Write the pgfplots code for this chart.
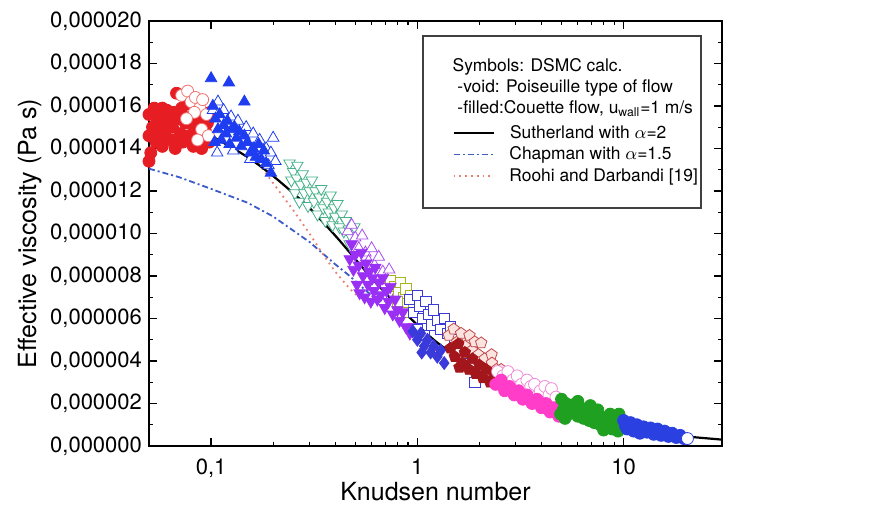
\documentclass[border=0pt]{standalone}
\usepackage{pgfplots}
\pgfplotsset{compat=1.18}
\usepackage{fontspec}
\setmainfont{TeX Gyre Heros}
\definecolor{redfill}{HTML}{E61E23}
\definecolor{redvoid}{HTML}{F07070}
\definecolor{bluefill}{HTML}{1E3CF0}
\definecolor{teal2}{HTML}{45B08A}
\definecolor{purp}{HTML}{9B30F5}
\definecolor{purpvoid}{HTML}{A84CF0}
\definecolor{olive2}{HTML}{A6B51E}
\definecolor{bluesq}{HTML}{3A3ADB}
\definecolor{brownfill}{HTML}{A3161B}
\definecolor{hexedge}{HTML}{C04848}
\definecolor{hexfill}{HTML}{FBE3E0}
\definecolor{pinkfill}{HTML}{FF3DC8}
\definecolor{pinkvoid}{HTML}{F08CD8}
\definecolor{green2}{HTML}{20A020}
\definecolor{blue2}{HTML}{2A40E0}
\definecolor{chap}{HTML}{3A5BC8}
\definecolor{roohi}{HTML}{E88070}
\begin{document}
\begin{tikzpicture}
\begin{axis}[
  scale only axis, width=286.5pt, height=212.5pt,
  at={(0,0)}, anchor=south west,
  xmode=log, xmin=0.05, xmax=30,
  ymin=0, ymax=20,
  axis line style={line width=0.8pt},
  every tick/.style={black, line width=0.6pt},
  major tick length=4pt, minor tick length=2.2pt,
  tick align=inside,
  xtick={0.1,1,10}, xticklabels={{0,1},{1},{10}},
  ytick={0,2,...,20}, minor ytick={1,3,...,19},
  yticklabels={{0,000000},{0,000002},{0,000004},{0,000006},{0,000008},{0,000010},{0,000012},{0,000014},{0,000016},{0,000018},{0,000020}},
  tick label style={font=\fontsize{11}{12}\selectfont},
  xticklabel style={yshift=-3pt},
  xlabel={Knudsen number}, ylabel={Effective viscosity (Pa s)},
  label style={font=\fontsize{12.5}{14}\selectfont},
  xlabel style={at={(axis description cs:0.5,-0.108)}, anchor=center},
  ylabel style={at={(axis description cs:-0.208,0.5)}, anchor=center},
  clip=true,
]
% red filled circles
\addplot[only marks, mark=*, mark size=3pt, color=redfill] coordinates {
(0.050,15.6)(0.050,14.6)(0.051,13.8)(0.050,13.4)(0.052,15.0)(0.053,15.9)(0.054,14.3)(0.055,15.3)
(0.056,14.8)(0.057,15.6)(0.058,14.1)(0.059,15.1)(0.060,14.6)(0.061,15.8)(0.062,15.3)(0.064,14.4)
(0.065,15.0)(0.066,15.7)(0.067,14.0)(0.068,16.6)(0.069,15.4)(0.071,14.7)(0.072,15.9)(0.073,14.3)
(0.075,15.2)(0.076,16.1)(0.078,14.6)(0.080,15.5)(0.082,14.1)(0.083,15.0)(0.085,15.8)(0.087,14.5)
(0.088,15.3)(0.090,14.0)(0.092,15.6)(0.094,14.8)(0.096,15.2)(0.098,14.3)(0.099,15.7)(0.058,15.9)};
% red void circles
\addplot[only marks, mark=*, mark size=3pt, mark options={draw=redvoid, fill=white}] coordinates {
(0.072,16.5)(0.077,16.7)(0.080,16.2)(0.084,16.4)(0.088,15.9)(0.091,16.3)(0.095,15.6)(0.083,15.7)
(0.076,15.4)(0.090,14.9)(0.097,14.6)(0.086,14.4)};
% blue void triangles
\addplot[only marks, mark=triangle*, mark size=3.3pt, mark options={draw=bluefill, fill=white}] coordinates {
(0.102,15.8)(0.108,16.2)(0.115,15.8)(0.125,15.5)(0.135,15.3)(0.148,15.0)(0.160,14.7)(0.172,14.4)
(0.185,14.0)(0.195,13.8)(0.205,13.4)(0.200,14.5)(0.190,13.2)(0.107,13.8)(0.128,13.9)(0.155,13.5)};
% blue filled triangles
\addplot[only marks, mark=triangle*, mark size=3.3pt, color=bluefill] coordinates {
(0.100,17.3)(0.122,17.1)(0.145,16.2)(0.102,16.0)(0.105,15.4)(0.108,14.9)(0.110,15.6)(0.112,14.4)
(0.115,15.1)(0.118,14.7)(0.120,15.3)(0.123,14.2)(0.126,14.9)(0.130,15.0)(0.133,14.5)(0.137,14.8)
(0.140,14.1)(0.145,14.6)(0.150,14.3)(0.155,13.8)(0.160,14.0)(0.165,13.6)(0.170,14.2)(0.175,13.5)
(0.180,13.9)(0.185,13.3)(0.195,12.85)(0.104,14.3)};
% teal void triangles (down)
\addplot[only marks, mark=triangle*, mark size=3.3pt, mark options={draw=teal2, fill=white, rotate=180}] coordinates {
(0.240,13.3)(0.245,12.5)(0.250,12.9)(0.255,11.9)(0.260,12.6)(0.262,13.2)(0.268,11.5)(0.272,12.3)
(0.278,12.8)(0.283,11.9)(0.290,12.4)(0.295,11.3)(0.300,12.0)(0.308,12.5)(0.315,11.5)(0.320,12.0)
(0.328,10.9)(0.335,11.7)(0.342,12.1)(0.350,11.2)(0.358,10.6)(0.365,11.5)(0.372,11.0)(0.380,11.8)
(0.388,10.4)(0.395,11.2)(0.400,10.8)(0.410,11.4)(0.420,10.3)(0.430,10.9)(0.440,10.1)(0.450,10.6)
(0.465,10.2)(0.480,9.8)(0.495,10.3)(0.470,9.5)};
% purple void triangles
\addplot[only marks, mark=triangle*, mark size=3.3pt, mark options={draw=purpvoid, fill=white}] coordinates {
(0.460,10.1)(0.480,10.4)(0.500,9.8)(0.520,9.3)(0.540,9.9)(0.560,9.1)(0.580,8.7)(0.600,9.3)
(0.620,8.5)(0.650,8.9)(0.680,8.2)(0.700,7.8)(0.730,8.3)(0.760,7.6)(0.800,7.2)(0.850,6.8)(0.900,6.6)};
% olive void squares
\addplot[only marks, mark=square*, mark size=2.6pt, mark options={draw=olive2, fill=white}] coordinates {
(0.740,7.8)(0.780,7.5)(0.810,7.2)(0.830,7.7)(0.860,7.0)(0.880,7.4)(0.900,6.7)(0.930,7.1)
(0.960,6.5)(0.990,6.9)(0.850,6.3)(0.800,6.8)};
% purple filled triangles (down)
\addplot[only marks, mark=triangle*, mark size=3.3pt, color=purp, mark options={rotate=180}] coordinates {
(0.470,8.8)(0.480,9.5)(0.490,8.3)(0.500,9.0)(0.510,7.6)(0.520,8.5)(0.525,7.2)(0.535,9.1)
(0.545,8.0)(0.555,7.0)(0.565,8.6)(0.575,7.6)(0.585,8.2)(0.595,6.8)(0.605,7.9)(0.615,7.3)
(0.625,8.4)(0.640,6.9)(0.650,7.7)(0.665,7.1)(0.680,7.9)(0.695,6.5)(0.710,7.3)(0.725,6.8)
(0.740,7.5)(0.760,6.2)(0.780,6.9)(0.800,6.4)(0.820,5.9)(0.850,6.3)(0.880,5.6)(0.920,5.3)
(0.960,5.6)(1.010,5.1)};
% blue void squares
\addplot[only marks, mark=square*, mark size=2.6pt, mark options={draw=bluesq, fill=white}] coordinates {
(0.920,6.9)(0.960,6.3)(1.000,7.1)(1.030,6.6)(1.060,6.0)(1.100,6.8)(1.130,6.2)(1.170,5.7)
(1.200,6.4)(1.250,5.9)(1.300,5.5)(1.350,6.0)(1.400,5.3)(1.450,5.6)(1.520,5.0)(1.000,5.5)
(1.080,5.2)(1.650,3.9)(1.900,3.0)};
% blue filled
\addplot[only marks, mark=diamond*, mark size=3.2pt, color=bluesq] coordinates {
(0.950,5.4)(1.000,5.0)(1.040,5.3)(1.080,4.7)(1.120,5.0)(1.160,4.4)(1.200,4.7)(1.250,4.2)
(1.300,4.5)(1.350,3.9)(1.050,4.4)};
% void pentagons
\addplot[only marks, mark=pentagon*, mark size=3pt, mark options={draw=hexedge, fill=hexfill}] coordinates {
(1.42,5.2)(1.50,5.5)(1.56,4.9)(1.63,5.3)(1.70,4.7)(1.79,5.2)(1.84,4.5)(1.90,4.9)
(1.98,4.3)(2.04,4.85)(2.12,4.1)(2.29,4.3)(2.30,3.9)(2.42,3.6)(2.55,3.6)};
% dark red filled
\addplot[only marks, mark=pentagon*, mark size=3pt, color=brownfill] coordinates {
(1.45,4.6)(1.52,4.2)(1.58,4.8)(1.65,3.9)(1.70,4.4)(1.78,3.6)(1.85,4.1)(1.92,3.4)
(2.00,3.8)(2.08,3.2)(2.15,3.6)(2.25,3.0)(2.35,3.4)(2.45,2.9)(1.60,3.7)};
% pink void circles
\addplot[only marks, mark=*, mark size=3pt, mark options={draw=pinkvoid, fill=white}] coordinates {
(2.45,3.5)(2.60,3.3)(2.75,3.5)(2.90,3.1)(3.05,3.3)(3.20,2.9)(3.40,3.1)(3.55,2.8)
(3.70,2.9)(3.95,2.6)(4.15,2.8)(4.35,2.4)(4.47,2.7)(4.70,2.3)};
% pink filled circles
\addplot[only marks, mark=*, mark size=3pt, color=pinkfill] coordinates {
(2.40,2.9)(2.55,3.1)(2.65,2.6)(2.80,2.8)(2.95,2.4)(3.10,2.6)(3.25,2.2)(3.40,2.4)
(3.60,2.0)(3.80,2.2)(4.00,1.8)(4.20,2.0)(4.40,1.6)(4.60,1.8)(4.85,1.4)};
% green filled
\addplot[only marks, mark=*, mark size=3pt, color=green2] coordinates {
(5.00,2.2)(5.10,1.7)(5.25,2.0)(5.40,1.5)(5.55,1.9)(5.70,1.6)(5.85,2.0)(6.00,1.4)
(6.20,1.8)(6.40,1.3)(6.60,1.6)(6.80,1.2)(7.00,1.5)(7.20,1.1)(7.45,1.4)(7.70,1.0)
(7.95,1.3)(8.20,0.9)(8.50,1.2)(8.80,0.8)(9.10,1.1)(9.40,0.7)(9.80,1.0)(5.20,1.3)
(6.00,2.1)(7.50,1.7)(9.50,1.5)(8.00,0.75)(4.95,1.5)(6.9,1.9)(8.6,1.5)};
% blue filled (high Kn)
\addplot[only marks, mark=*, mark size=3pt, color=blue2] coordinates {
(10.0,1.2)(10.4,0.8)(10.8,1.1)(11.2,0.7)(11.6,1.0)(12.0,0.6)(12.5,0.9)(13.0,0.65)
(13.5,0.85)(14.0,0.55)(14.6,0.8)(15.2,0.5)(15.8,0.7)(16.5,0.45)(17.2,0.6)(18.0,0.4)
(18.8,0.5)(19.6,0.35)(10.2,0.95)(11.0,0.9)};
\addplot[only marks, mark=*, mark size=3pt, mark options={draw=blue2, fill=white}] coordinates {(20.4,0.35)};
% Chapman
\addplot[no marks, color=chap, line width=0.9pt, dash pattern=on 3pt off 1.5pt on 1pt off 1.5pt] coordinates {
(0.05,13.05)(0.07,12.65)(0.1,12.1)(0.15,11.45)(0.2,10.8)(0.3,9.6)(0.4,8.55)(0.47,8.0)(0.55,7.4)(0.65,6.8)};
% Roohi
\addplot[no marks, color=roohi, line width=0.9pt, dotted] coordinates {
(0.17,13.3)(0.19,12.66)(0.25,11.1)(0.3,10.0)(0.35,9.0)(0.4,8.2)(0.47,7.4)(0.52,7.0)};
% Sutherland
\addplot[no marks, color=black, line width=1.1pt, smooth] coordinates {
(0.1,14.6)(0.15,13.6)(0.2,12.7)(0.25,11.9)(0.3,11.2)(0.4,9.9)(0.5,8.8)(0.6,7.9)(0.7,7.2)
(0.8,6.6)(1.0,5.7)(1.2,5.0)(1.5,4.3)(2.0,3.5)(2.5,2.95)(3,2.55)(4,2.0)(5,1.65)(7,1.2)
(10,0.87)(15,0.59)(20,0.45)(30,0.3)};
% legend
\node[draw=black!75, line width=0.9pt, fill=white, anchor=north west, inner sep=0pt,
      minimum width=139pt, minimum height=86pt,
      font=\fontsize{8.7}{10.6}\selectfont] at (rel axis cs:0.476,0.967) {%
\makebox[139pt][l]{\hspace{15pt}\begin{tabular}{@{}l@{}}
Symbols: DSMC calc.\\
\ -void: Poiseuille type of flow\\
\ -filled:Couette flow, u\textsubscript{wall}=1 m/s\\[2pt]
\tikz[baseline=-0.6ex]\draw[black,line width=1.2pt](0,0)--(20pt,0);\hspace{7.5pt}Sutherland with $\alpha$=2\\
\tikz[baseline=-0.6ex]\draw[chap,line width=0.9pt,dash pattern=on 3pt off 1.5pt on 1pt off 1.5pt](0,0)--(20pt,0);\hspace{7.5pt}Chapman with $\alpha$=1.5\\
\tikz[baseline=-0.6ex]\draw[roohi,line width=0.9pt,dotted](0,0)--(20pt,0);\hspace{7.5pt}Roohi and Darbandi [19]
\end{tabular}}};
\end{axis}
\pgfresetboundingbox
\path (-74.5pt,-30pt) rectangle (368pt,223pt);
\end{tikzpicture}
\end{document}
